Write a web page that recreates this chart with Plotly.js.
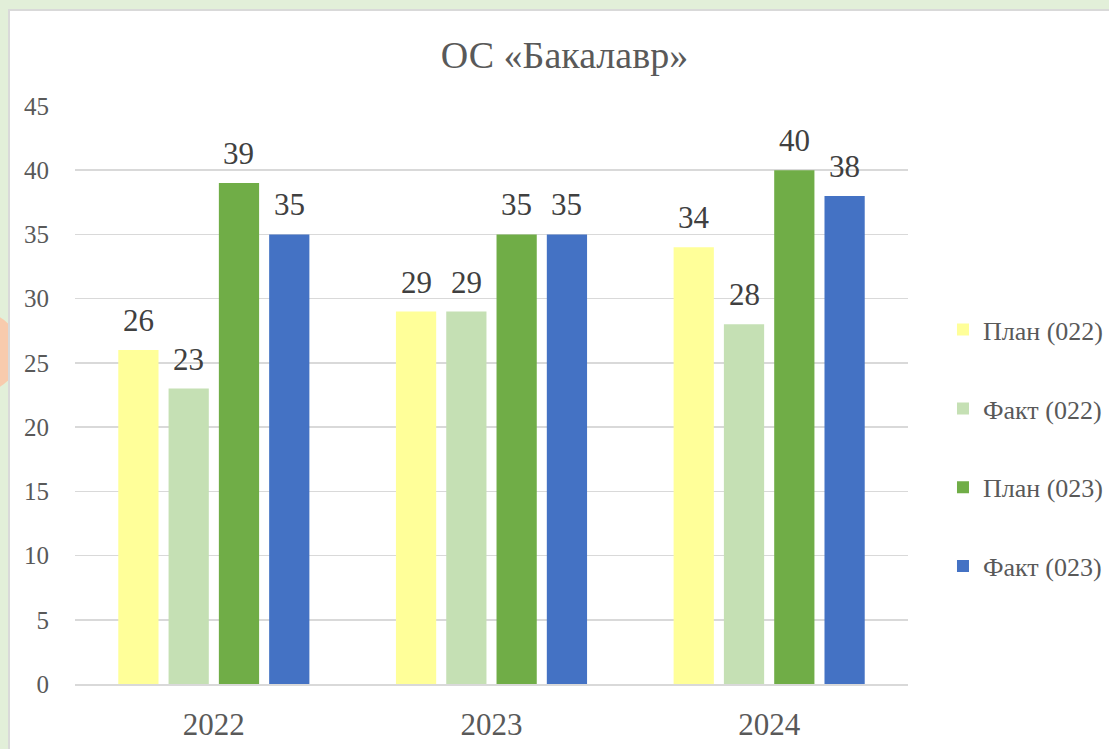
<!DOCTYPE html>
<html>
<head>
<meta charset="utf-8">
<script src="https://cdn.plot.ly/plotly-3.0.1.min.js"></script>
<style>
  html, body { margin: 0; padding: 0; width: 1109px; height: 749px; overflow: hidden; background: #E2EFD9; }
  #circle { position: absolute; left: -60px; top: 312px; width: 80px; height: 80px; border-radius: 50%; background: #F8CBAD; }
  #panel { position: absolute; left: 8px; top: 9px; width: 1120px; height: 760px; background: #FFFFFF; border: 2px solid #D9D9D9; box-sizing: border-box; }
  #chart { position: absolute; left: 0; top: 0; width: 1109px; height: 749px; }
</style>
</head>
<body>
<div id="circle"></div>
<div id="panel"></div>
<div id="chart"></div>
<script>
const years = ['2022', '2023', '2024'];
const seriesNames = ['План (022)', 'Факт (022)', 'План (023)', 'Факт (023)'];
const plan022 = [26, 29, 34];
const fact022 = [23, 29, 28];
const plan023 = [39, 35, 40];
const fact023 = [35, 35, 38];
const seriesValues = [plan022, fact022, plan023, fact023];
const seriesColors = ['#FFFF99', '#C5E0B4', '#70AD47', '#4472C4'];
const yTicks = [0, 5, 10, 15, 20, 25, 30, 35, 40, 45];

const W = 1109, H = 749;
const margin = {l: 75, r: 201, t: 106, b: 65, autoexpand: false};
const bargap = 0.2755;
const plotW = W - margin.l - margin.r;
const slot = plotW / years.length * (1 - bargap) / seriesNames.length;
const serif = 'Liberation Serif';

const traces = seriesNames.map((name, i) => ({
  type: 'bar',
  name: name,
  x: years,
  y: seriesValues[i],
  marker: {color: seriesColors[i]},
  legendgroup: 'g' + i
}));

const annotations = [];
seriesValues.forEach((vals, i) => {
  vals.forEach((v, j) => {
    annotations.push({
      x: j, y: v, xref: 'x', yref: 'y',
      text: String(v), showarrow: false,
      xanchor: 'center', yanchor: 'bottom',
      xshift: (i - (seriesNames.length - 1) / 2) * slot,
      yshift: 10,
      font: {family: serif, size: 31, color: '#404040'}
    });
  });
});

const layout = {
  width: W, height: H,
  margin: margin,
  paper_bgcolor: 'rgba(0,0,0,0)',
  plot_bgcolor: 'rgba(0,0,0,0)',
  barmode: 'group',
  bargap: bargap,
  bargroupgap: 0.2,
  title: {
    text: 'ОС «Бакалавр»',
    x: 0.509, xanchor: 'center', y: 0.9266, yanchor: 'middle',
    font: {family: serif, size: 38, color: '#595959'}
  },
  font: {family: serif, color: '#595959'},
  xaxis: {
    type: 'category',
    showgrid: false,
    showline: true, linecolor: '#D9D9D9', linewidth: 1.5,
    ticks: 'outside', ticklen: 12, tickcolor: 'rgba(0,0,0,0)',
    tickfont: {size: 31, color: '#595959', family: serif}
  },
  yaxis: {
    range: [0, 45],
    tickmode: 'array',
    tickvals: yTicks,
    showgrid: true, gridcolor: '#D9D9D9', gridwidth: 1.5,
    zeroline: false,
    showline: false,
    ticks: 'outside', ticklen: 20, tickcolor: 'rgba(0,0,0,0)',
    tickfont: {size: 25, color: '#595959', family: serif}
  },
  showlegend: true,
  legend: {
    x: 1.042, xanchor: 'left', y: 0.408, yanchor: 'middle',
    traceorder: 'grouped',
    tracegroupgap: 42,
    font: {size: 26, color: '#595959', family: serif},
    bgcolor: 'rgba(0,0,0,0)'
  },
  annotations: annotations
};

Plotly.newPlot('chart', traces, layout, {displayModeBar: false, staticPlot: true});
</script>
</body>
</html>
